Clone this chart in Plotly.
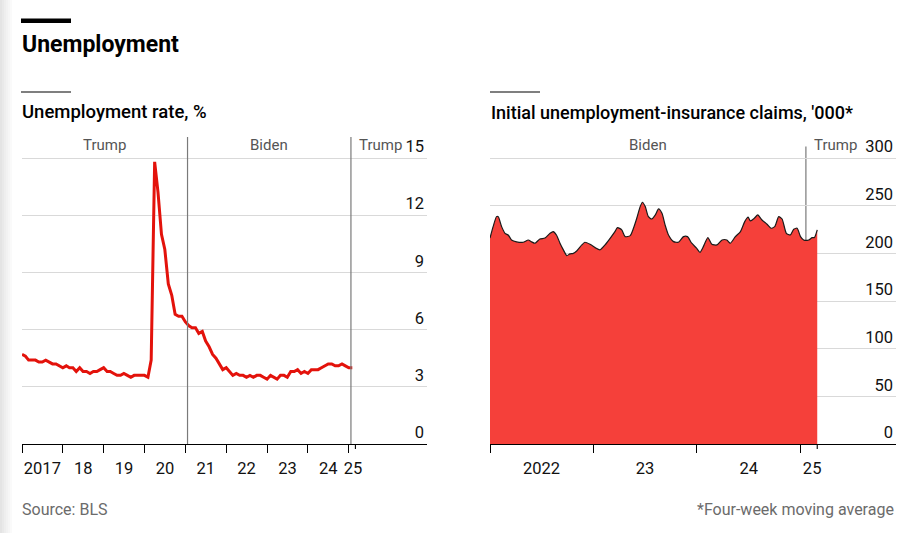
import plotly.graph_objects as go
import pandas as pd

# ---------------- data ----------------
# Monthly unemployment rate, %, Jan 2017 - Feb 2025
rate_start = "2017-01-01"
rate_values = [
    4.7, 4.6, 4.4, 4.4, 4.4, 4.3, 4.3, 4.4, 4.3, 4.2, 4.2, 4.1,   # 2017
    4.0, 4.1, 4.0, 4.0, 3.8, 4.0, 3.8, 3.8, 3.7, 3.8, 3.8, 3.9,   # 2018
    4.0, 3.8, 3.8, 3.7, 3.6, 3.6, 3.7, 3.6, 3.5, 3.6, 3.6, 3.6,   # 2019
    3.6, 3.5, 4.4, 14.8, 13.2, 11.0, 10.2, 8.4, 7.8, 6.8, 6.7, 6.7,  # 2020
    6.4, 6.2, 6.1, 6.1, 5.8, 5.9, 5.4, 5.1, 4.7, 4.5, 4.2, 3.9,   # 2021
    4.0, 3.8, 3.6, 3.7, 3.6, 3.6, 3.5, 3.6, 3.5, 3.6, 3.6, 3.5,   # 2022
    3.4, 3.6, 3.5, 3.4, 3.6, 3.6, 3.5, 3.8, 3.8, 3.9, 3.7, 3.8,   # 2023
    3.7, 3.9, 3.9, 3.9, 4.0, 4.1, 4.2, 4.2, 4.1, 4.1, 4.2, 4.1,   # 2024
    4.0, 4.0,                                                     # 2025
]

# Initial unemployment-insurance claims, '000, four-week moving average
claims_dates = [
    "2022-01-01", "2022-01-12", "2022-01-24", "2022-01-30", "2022-02-11", "2022-02-23",
    "2022-03-07", "2022-03-18", "2022-04-05", "2022-04-28", "2022-05-16", "2022-05-28",
    "2022-06-09", "2022-06-26", "2022-07-14", "2022-08-01", "2022-08-12", "2022-08-24",
    "2022-09-05", "2022-09-17", "2022-09-29", "2022-10-10", "2022-10-22", "2022-11-03",
    "2022-11-21", "2022-12-02", "2022-12-20", "2023-01-07", "2023-01-24", "2023-02-11",
    "2023-03-01", "2023-03-18", "2023-03-27", "2023-04-11", "2023-04-23", "2023-05-11",
    "2023-05-22", "2023-06-03", "2023-06-15", "2023-06-23", "2023-07-03", "2023-07-14",
    "2023-07-26", "2023-08-07", "2023-08-19", "2023-08-31", "2023-09-11", "2023-09-23",
    "2023-10-11", "2023-10-28", "2023-11-15", "2023-11-29", "2023-12-14", "2023-12-31",
    "2024-01-12", "2024-01-24", "2024-02-09", "2024-02-23", "2024-03-12", "2024-03-30",
    "2024-04-16", "2024-04-28", "2024-05-16", "2024-06-03", "2024-06-18", "2024-06-30",
    "2024-07-08", "2024-07-22", "2024-08-03", "2024-08-18", "2024-09-05", "2024-09-19",
    "2024-10-02", "2024-10-16", "2024-10-28", "2024-11-12", "2024-11-26", "2024-12-08",
    "2024-12-20", "2025-01-01", "2025-01-12", "2025-01-30", "2025-02-11", "2025-02-19",
    "2025-03-01",
]
claims_values = [
    216, 228, 238.5, 238.5, 228, 221,
    219, 214, 212, 211.6, 214, 212,
    210.6, 215, 216, 221, 222.8, 219,
    210.6, 203.6, 197.6, 199.4, 200, 202.5,
    208.8, 211.6, 209.5, 206, 203.6, 208.8,
    215.8, 222.8, 227, 224.6, 217.5, 218.6,
    226, 236.8, 249, 253.6, 249, 238.5,
    236, 240, 246.6, 242, 229.8, 219.3,
    212.3, 211.6, 217.5, 217.5, 210.6, 205.4,
    201, 207, 216.5, 209.5, 208.8, 214,
    214, 210.6, 217.5, 222.8, 233.3, 237.9,
    234, 236.8, 240.3, 235, 230.5, 226.3,
    228, 238.5, 236, 221, 219.3, 225.3,
    226.3, 217.5, 214, 214, 216.5, 216.5,
    224.6,
]

# presidential terms
term_changes_left = ["2021-01-20", "2025-01-20"]
term_changes_right = ["2025-01-20"]
left_term_labels = ["Trump", "Biden", "Trump"]
right_term_labels = ["Biden", "Trump"]

# axis labels
left_year_ticks = ["2017-01-01", "2018-01-01", "2019-01-01", "2020-01-01", "2021-01-01",
                   "2022-01-01", "2023-01-01", "2024-01-01", "2025-01-01"]
left_label_pos = ["2017-07-02", "2018-07-02", "2019-07-02", "2020-07-02", "2021-07-02",
                  "2022-07-02", "2023-07-02", "2024-07-02", "2025-02-08"]
left_label_text = ["2017", "18", "19", "20", "21", "22", "23", "24", "25"]
left_end = "2025-03-01"

right_year_ticks = ["2022-01-01", "2023-01-01", "2024-01-01", "2025-01-01"]
right_label_pos = ["2022-07-02", "2023-07-02", "2024-07-02", "2025-02-11"]
right_label_text = ["2022", "23", "24", "25"]
right_end = "2025-03-01"

left_yticks = [0, 3, 6, 9, 12, 15]
right_yticks = [0, 50, 100, 150, 200, 250, 300]

# ---------------- build ----------------
rate_dates = pd.date_range(rate_start, periods=len(rate_values), freq="MS")

W, H = 915, 533
def px(x):
    return x / W
def py(y):
    return 1 - y / H

RED_LINE = "#E3120B"
RED_FILL = "#F5403A"
GRID = "#D9D9D9"
FONT = "Roboto"

# plot area: axis line at y=444px; top gridline at y=158px; domain extended above
AX_Y, TOP_GRID, DOM_TOP = 444, 158, 126
DOM_H = AX_Y - DOM_TOP
def dom_y(ypix):
    return (AX_Y - ypix) / DOM_H
left_top = 15 * (AX_Y - DOM_TOP) / (AX_Y - TOP_GRID)
right_top = 300 * (AX_Y - DOM_TOP) / (AX_Y - TOP_GRID)

fig = go.Figure()

fig.add_trace(go.Scatter(
    x=rate_dates, y=rate_values, mode="lines",
    line=dict(color=RED_LINE, width=3), xaxis="x", yaxis="y",
    hoverinfo="skip", showlegend=False,
))
fig.add_trace(go.Scatter(
    x=claims_dates, y=claims_values, mode="lines", fill="tozeroy",
    fillcolor=RED_FILL, line=dict(color="#1a1a1a", width=1.2, shape="spline", smoothing=0.6),
    xaxis="x2", yaxis="y2", hoverinfo="skip", showlegend=False,
))

ydom = [1 - AX_Y / H, 1 - DOM_TOP / H]
tickfont = dict(family=FONT, size=16.5, color="#111")

common_x = dict(
    type="date", showgrid=False, showline=True, linecolor="#000", linewidth=1.3,
    ticks="outside", ticklen=0, tickfont=tickfont, ticklabelstandoff=9,
    tickmode="array", zeroline=False,
)
fig.update_layout(
    xaxis=dict(common_x, domain=[px(22), px(427)], range=["2017-01-01", "2026-12-01"],
               tickvals=left_label_pos, ticktext=left_label_text, anchor="y",
               minor=dict(tickmode="array", tickvals=left_year_ticks, ticks="outside",
                          ticklen=8, tickcolor="#000", tickwidth=1.1, showgrid=False)),
    xaxis2=dict(common_x, domain=[px(490), px(896)], range=["2022-01-01", "2025-12-04"],
                tickvals=right_label_pos, ticktext=right_label_text, anchor="y2",
                minor=dict(tickmode="array", tickvals=right_year_ticks, ticks="outside",
                           ticklen=8, tickcolor="#000", tickwidth=1.1, showgrid=False)),
    yaxis=dict(domain=ydom, range=[0, left_top], tickvals=left_yticks, side="right",
               ticklabelposition="inside top", showgrid=True, gridcolor=GRID, gridwidth=1,
               zeroline=False, showline=False, ticks="", tickfont=tickfont, anchor="x"),
    yaxis2=dict(domain=ydom, range=[0, right_top], tickvals=right_yticks, side="right",
                ticklabelposition="inside top", showgrid=True, gridcolor=GRID, gridwidth=1,
                zeroline=False, showline=False, ticks="", tickfont=tickfont, anchor="x2"),
    width=W, height=H, margin=dict(l=0, r=0, t=0, b=0),
    paper_bgcolor="#fff", plot_bgcolor="#fff", showlegend=False,
)

shapes = []
# left-edge grey shading
for i, c in enumerate(["#e4e4e4", "#e9e9e9", "#eeeeee", "#f2f2f2", "#f6f6f6", "#fafafa"]):
    shapes.append(dict(type="rect", xref="paper", yref="paper", x0=px(i * 2), x1=px(i * 2 + 2),
                       y0=0, y1=1, fillcolor=c, line=dict(width=0), layer="below"))
# header bars
shapes.append(dict(type="rect", xref="paper", yref="paper", x0=px(21), x1=px(71),
                   y0=py(23), y1=py(18.5), fillcolor="#000", line=dict(width=0)))
for x0 in (21, 490):
    shapes.append(dict(type="line", xref="paper", yref="paper", x0=px(x0), x1=px(x0 + 50),
                       y0=py(92), y1=py(92), line=dict(color="#000", width=1.2)))
# term change lines
for d in term_changes_left:
    shapes.append(dict(type="line", xref="x", yref="y domain", x0=d, x1=d, y0=0, y1=dom_y(137),
                       line=dict(color="#7a7a7a", width=1.2)))
for d in term_changes_right:
    shapes.append(dict(type="line", xref="x2", yref="y2 domain", x0=d, x1=d, y0=0.5,
                       y1=dom_y(146.5), line=dict(color="#7a7a7a", width=1.2), layer="below"))
# data end ticks
for xr, yr, d in (("x", "y domain", left_end), ("x2", "y2 domain", right_end)):
    shapes.append(dict(type="line", xref=xr, yref=yr, x0=d, x1=d,
                       y0=dom_y(AX_Y + 1), y1=dom_y(AX_Y + 5), line=dict(color="#000", width=1.1)))
fig.update_layout(shapes=shapes)

ann = []
ann.append(dict(text="<b>Unemployment</b>", x=px(20), y=py(45), xref="paper", yref="paper",
                xanchor="left", yanchor="middle", showarrow=False,
                font=dict(family=FONT, size=23, color="#000")))
ann.append(dict(text="Unemployment rate, %", x=px(20), y=py(112), xref="paper", yref="paper",
                xanchor="left", yanchor="middle", showarrow=False,
                font=dict(family=FONT, size=18.5, color="#000", weight=500)))
ann.append(dict(text="Initial unemployment-insurance claims, '000*", x=px(489), y=py(112),
                xref="paper", yref="paper", xanchor="left", yanchor="middle", showarrow=False,
                font=dict(family=FONT, size=18, color="#000", weight=500)))
label_font = dict(family=FONT, size=15, color="#555")
for text, x, anchor in [(left_term_labels[0], 104, "center"), (left_term_labels[1], 269, "center"),
                        (left_term_labels[2], 357, "left"), (right_term_labels[0], 648, "center"),
                        (right_term_labels[1], 812, "left")]:
    ann.append(dict(text=text, x=px(x), y=py(145), xref="paper", yref="paper", xanchor=anchor,
                    yanchor="middle", showarrow=False, font=label_font))
ann.append(dict(text="Source: BLS", x=px(20), y=py(509), xref="paper", yref="paper",
                xanchor="left", yanchor="middle", showarrow=False,
                font=dict(family=FONT, size=16, color="#6b6b6b")))
ann.append(dict(text="*Four-week moving average", x=px(896), y=py(509), xref="paper", yref="paper",
                xanchor="right", yanchor="middle", showarrow=False,
                font=dict(family=FONT, size=16, color="#6b6b6b")))
fig.update_layout(annotations=ann)

fig.write_html("out.html", config={"displayModeBar": False},
               post_script="document.body.style.margin='0px';")
